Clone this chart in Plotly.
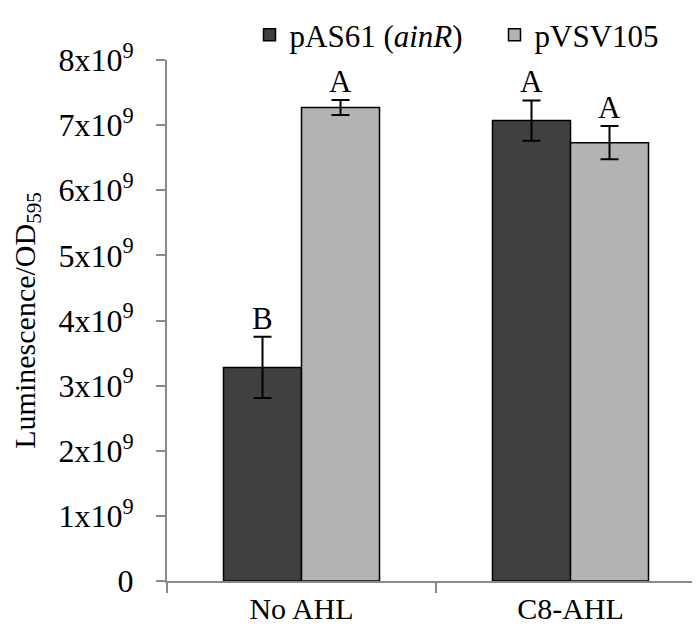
import plotly.graph_objects as go

categories = ["No AHL", "C8-AHL"]
series_names = ["pAS61 (<i>ainR</i>)", "pVSV105"]
pas61_values = [3.28e9, 7.07e9]
pas61_errors = [0.47e9, 0.31e9]
pvsv105_values = [7.27e9, 6.73e9]
pvsv105_errors = [0.115e9, 0.255e9]
pas61_letters = ["B", "A"]
pvsv105_letters = ["A", "A"]
tick_values = [0, 1e9, 2e9, 3e9, 4e9, 5e9, 6e9, 7e9, 8e9]
tick_labels = ["0"] + [f"{i}x10<sup>9</sup>" for i in range(1, 9)]

FONT = "Liberation Serif"
DARK = "#404040"
LIGHT = "#b3b3b3"
AXIS = "#8a8a8a"

fig = go.Figure()
fig.add_trace(go.Bar(
    name=series_names[0], x=categories, y=pas61_values,
    marker=dict(color=DARK, line=dict(color="black", width=1.5)),
    error_y=dict(type="data", array=pas61_errors, color="black", thickness=2, width=9),
))
fig.add_trace(go.Bar(
    name=series_names[1], x=categories, y=pvsv105_values,
    marker=dict(color=LIGHT, line=dict(color="black", width=1.5)),
    error_y=dict(type="data", array=pvsv105_errors, color="black", thickness=2, width=9),
))

BAR_PX = 39
for cat, v, e, t in zip(categories, pas61_values, pas61_errors, pas61_letters):
    fig.add_annotation(x=cat, y=v + e, text=t, showarrow=False, xshift=-BAR_PX,
                       yanchor="bottom", yshift=-1, font=dict(family=FONT, size=31, color="black"))
for cat, v, e, t in zip(categories, pvsv105_values, pvsv105_errors, pvsv105_letters):
    fig.add_annotation(x=cat, y=v + e, text=t, showarrow=False, xshift=BAR_PX,
                       yanchor="bottom", yshift=-1, font=dict(family=FONT, size=31, color="black"))

fig.update_layout(
    width=700, height=627,
    margin=dict(l=159, r=3, t=52, b=54, autoexpand=False),
    paper_bgcolor="white", plot_bgcolor="white",
    font=dict(family=FONT, size=30, color="black"),
    barmode="group", bargap=0.42, bargroupgap=0,
    showlegend=True,
    legend=dict(orientation="h", x=0.345, xanchor="left", y=1.0, yanchor="top",
                xref="container", yref="container",
                font=dict(family=FONT, size=31, color="black"),
                bgcolor="rgba(0,0,0,0)", entrywidth=200, entrywidthmode="pixels",
                tracegroupgap=0),
    xaxis=dict(type="category", showline=True, linecolor=AXIS, linewidth=2,
               ticks="outside", tickson="boundaries", ticklen=10, tickcolor=AXIS, tickwidth=2,
               showgrid=False, tickfont=dict(family=FONT, size=30, color="black")),
    yaxis=dict(range=[0, 8e9], tickvals=tick_values, ticktext=tick_labels,
               showline=True, linecolor=AXIS, linewidth=2,
               ticks="outside", ticklen=9, tickcolor=AXIS, tickwidth=2,
               ticklabelstandoff=16,
               showgrid=False, zeroline=False,
               tickfont=dict(family=FONT, size=32, color="black"),
               title=dict(text="Luminescence/OD<sub>595</sub>", standoff=31,
                          font=dict(family=FONT, size=30, color="black"))),
)

fig.write_html("out.html")
